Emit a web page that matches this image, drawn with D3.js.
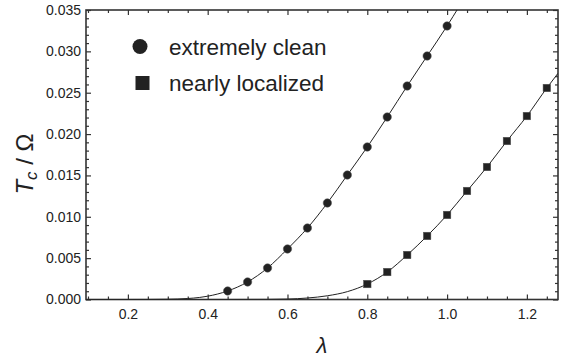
<!DOCTYPE html>
<html>
<head>
<meta charset="utf-8">
<script src="https://cdn.jsdelivr.net/npm/d3@7"></script>
<style>
  body { margin: 0; background: #fff; }
  text { font-family: "Liberation Sans", Arial, sans-serif; fill: #222; }
</style>
</head>
<body>
<div id="chart"></div>
<script>
'use strict';

// measured points
var lambdaClean = [0.45, 0.5, 0.55, 0.6, 0.65, 0.7, 0.75, 0.8, 0.85, 0.9, 0.95, 1.0];
var tcClean = [0.00103, 0.00212, 0.00381, 0.00611, 0.00864, 0.01167, 0.01505, 0.01844, 0.02206, 0.02581, 0.02944, 0.03307];

var lambdaLoc = [0.8, 0.85, 0.9, 0.95, 1.0, 1.05, 1.1, 1.15, 1.2, 1.25];
var tcLoc = [0.00187, 0.00332, 0.00538, 0.00768, 0.01022, 0.01312, 0.01602, 0.01916, 0.02218, 0.02557];

// fitted curves
var curveCleanX = [0.095, 0.2, 0.25, 0.3, 0.35, 0.38, 0.4, 0.45, 0.5, 0.55, 0.6, 0.65, 0.7, 0.75, 0.8, 0.85, 0.9, 0.95, 1.0, 1.03];
var curveCleanY = [0, 0, 0.000005, 0.00003, 0.00012, 0.00025, 0.0004, 0.00103, 0.00212, 0.00381, 0.00611, 0.00864, 0.01167, 0.01505, 0.01844, 0.02206, 0.02581, 0.02944, 0.03307, 0.0354];

var curveLocX = [0.095, 0.45, 0.5, 0.55, 0.6, 0.65, 0.7, 0.75, 0.8, 0.85, 0.9, 0.95, 1.0, 1.05, 1.1, 1.15, 1.2, 1.25, 1.278];
var curveLocY = [0, 0, 0.000002, 0.00001, 0.00005, 0.00018, 0.00045, 0.00095, 0.00187, 0.00332, 0.00538, 0.00768, 0.01022, 0.01312, 0.01602, 0.01916, 0.02218, 0.02557, 0.02735];

var xMajor = [0.2, 0.4, 0.6, 0.8, 1.0, 1.2];
var yMajor = [0, 0.005, 0.010, 0.015, 0.020, 0.025, 0.030, 0.035];

var W = 563, H = 360;
var pLeft = 86, pRight = 558, pTop = 10, pBottom = 299.5;

var svg = d3.select('#chart')
            .append('svg')
            .attr('width', W)
            .attr('height', H);

var x = d3.scaleLinear().domain([0.095, 1.278]).range([pLeft, pRight]);
var y = d3.scaleLinear().domain([0, 0.035]).range([pBottom, pTop]);

var clip = svg.append('defs').append('clipPath').attr('id', 'plotclip');
clip.append('rect')
    .attr('x', pLeft).attr('y', pTop)
    .attr('width', pRight - pLeft).attr('height', pBottom - pTop);

var xMinor = d3.range(0.1, 1.2751, 0.05).map(function (d) { return +d.toFixed(2); })
                .filter(function (d) { return xMajor.indexOf(d) < 0; });
var yMinor = d3.range(0, 0.0351, 0.001).map(function (d) { return +d.toFixed(3); })
                .filter(function (d) { return yMajor.indexOf(d) < 0; });

var fmtY = d3.format('.3f');
var fmtX = d3.format('.1f');

// axes: ticks drawn inward, mirrored on top and right
function axisPair(axisFn, scale, vals, size, fmt, tr) {
	var a = axisFn(scale).tickValues(vals).tickSizeInner(size).tickSizeOuter(0);
	if (fmt) a.tickFormat(fmt); else a.tickFormat('');
	var g = svg.append('g').attr('transform', tr).call(a);
	g.select('.domain').remove();
	g.selectAll('line').attr('stroke', '#333').attr('stroke-width', 1.2);
	return g;
}

var gb = axisPair(d3.axisTop, x, xMajor, 5, fmtX, 'translate(0,' + pBottom + ')');
gb.selectAll('text').attr('y', 9.5).attr('dy', '0.71em').style('font-size', '14px');
axisPair(d3.axisTop, x, xMinor, 3, null, 'translate(0,' + pBottom + ')');
axisPair(d3.axisBottom, x, xMajor, 5, null, 'translate(0,' + pTop + ')');
axisPair(d3.axisBottom, x, xMinor, 3, null, 'translate(0,' + pTop + ')');

var gl = axisPair(d3.axisRight, y, yMajor, 5, fmtY, 'translate(' + pLeft + ',0)');
gl.selectAll('text').attr('x', -5).attr('text-anchor', 'end').style('font-size', '14px');
axisPair(d3.axisRight, y, yMinor, 3, null, 'translate(' + pLeft + ',0)');
axisPair(d3.axisLeft, y, yMajor, 5, null, 'translate(' + pRight + ',0)');
axisPair(d3.axisLeft, y, yMinor, 3, null, 'translate(' + pRight + ',0)');

// frame
svg.append('rect')
   .attr('x', pLeft).attr('y', pTop)
   .attr('width', pRight - pLeft).attr('height', pBottom - pTop)
   .attr('fill', 'none').attr('stroke', '#333').attr('stroke-width', 1.6);

var line = d3.line()
             .x(function (d) { return x(d[0]); })
             .y(function (d) { return y(d[1]); })
             .curve(d3.curveMonotoneX);

var plot = svg.append('g').attr('clip-path', 'url(#plotclip)');

plot.append('path')
    .datum(d3.zip(curveCleanX, curveCleanY))
    .attr('d', line)
    .attr('fill', 'none').attr('stroke', '#222').attr('stroke-width', 1);

plot.append('path')
    .datum(d3.zip(curveLocX, curveLocY))
    .attr('d', line)
    .attr('fill', 'none').attr('stroke', '#222').attr('stroke-width', 1);

plot.selectAll('circle.pt')
    .data(d3.zip(lambdaClean, tcClean))
    .enter()
    .append('circle')
    .attr('class', 'pt')
    .attr('cx', function (d) { return x(d[0]); })
    .attr('cy', function (d) { return y(d[1]); })
    .attr('r', 4.2)
    .attr('fill', '#222').attr('stroke', '#555').attr('stroke-width', 0.5);

var sq = 7.5;
plot.selectAll('rect.pt')
    .data(d3.zip(lambdaLoc, tcLoc))
    .enter()
    .append('rect')
    .attr('class', 'pt')
    .attr('x', function (d) { return x(d[0]) - sq / 2; })
    .attr('y', function (d) { return y(d[1]) - sq / 2; })
    .attr('width', sq).attr('height', sq)
    .attr('fill', '#222').attr('stroke', '#555').attr('stroke-width', 0.5);

// legend
svg.append('circle').attr('cx', 140).attr('cy', 46.5).attr('r', 7.5).attr('fill', '#222');
svg.append('text').attr('x', 169).attr('y', 55).style('font-size', '22.5px').text('extremely clean');
svg.append('rect').attr('x', 135.5).attr('y', 76).attr('width', 14).attr('height', 14).attr('fill', '#222');
svg.append('text').attr('x', 169).attr('y', 90.5).style('font-size', '22.5px').text('nearly localized');

// axis titles
svg.append('text')
   .attr('x', 322).attr('y', 353)
   .attr('text-anchor', 'middle')
   .style('font-size', '22px').style('font-style', 'italic')
   .text('λ');

var yt = svg.append('text')
   .attr('transform', 'translate(33,164) rotate(-90)')
   .attr('text-anchor', 'middle')
   .style('font-size', '24px');
yt.append('tspan').style('font-style', 'italic').text('T');
yt.append('tspan').style('font-style', 'italic').style('font-size', '17px').attr('dy', 4).text('c');
yt.append('tspan').attr('dy', -4).text(' / Ω');
</script>
</body>
</html>
